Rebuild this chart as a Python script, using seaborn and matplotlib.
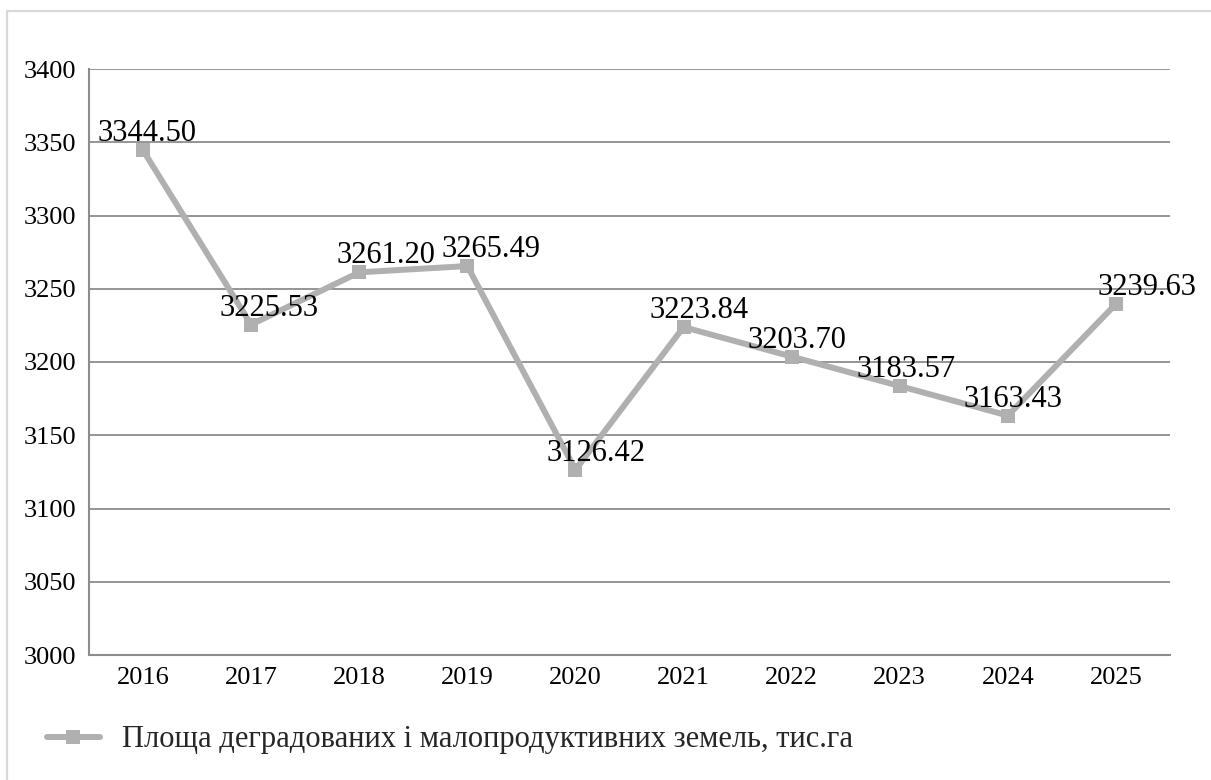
import matplotlib
matplotlib.use("Agg")
import matplotlib.pyplot as plt
from matplotlib.patches import Rectangle
import seaborn as sns
import pandas as pd

# Data
years = [2016, 2017, 2018, 2019, 2020, 2021, 2022, 2023, 2024, 2025]
area = [3344.50, 3225.53, 3261.20, 3265.49, 3126.42, 3223.84, 3203.70, 3183.57, 3163.43, 3239.63]
series_name = "Площа деградованих і малопродуктивних земель, тис.га"
y_ticks = [3000, 3050, 3100, 3150, 3200, 3250, 3300, 3350, 3400]

# Horizontal nudges of the value labels (pixels)
label_dx = [4, 18, 27, 24, 21, 16, 5, 6, 5, 31]

sns.set_theme(style="white")
plt.rcParams["font.family"] = ["Liberation Serif", "DejaVu Serif"]

W, H = 1211, 780
fig = plt.figure(figsize=(W / 100, H / 100), dpi=100)
ax = fig.add_axes([89 / W, (H - 655) / H, (1170 - 89) / W, (655 - 69) / H])

line_color = "#B0B0B0"
grid_color = "#8C8C8C"

df = pd.DataFrame({"year": years, "value": area})
sns.lineplot(data=df, x="year", y="value", ax=ax, color=line_color,
             linewidth=4.3, marker="s", markersize=10, markeredgewidth=0,
             label=series_name, legend=False)

ax.set_xlim(years[0] - 0.5, years[-1] + 0.5)
ax.set_ylim(y_ticks[0], y_ticks[-1])
ax.set_xticks(years)
ax.set_xticklabels([str(y) for y in years])
ax.set_yticks(y_ticks)
ax.set_xlabel("")
ax.set_ylabel("")
ax.tick_params(axis="both", labelsize=19, colors="black", length=0, pad=9)

ax.grid(axis="y", color=grid_color, linewidth=1.3)
ax.set_axisbelow(True)
for side in ["top", "right"]:
    ax.spines[side].set_visible(False)
for side in ["left", "bottom"]:
    ax.spines[side].set_color(grid_color)
    ax.spines[side].set_linewidth(1.5)

for x, v, dx in zip(years, area, label_dx):
    ax.annotate(f"{v:.2f}", xy=(x, v), xytext=(dx, 9), textcoords="offset pixels",
                ha="center", va="baseline", fontsize=22, color="black",
                annotation_clip=False, zorder=5)

handles, labels = ax.get_legend_handles_labels()
fig.legend(handles, labels, loc="center left",
           bbox_to_anchor=(47 / W, (H - 740) / H), frameon=False,
           fontsize=22, handlelength=1.73, handletextpad=0.72,
           borderpad=0, borderaxespad=0)

# Chart area border
fig.patches.append(Rectangle((7 / W, -0.1), 1.2, (H - 11) / H + 0.1,
                             transform=fig.transFigure, fill=False,
                             edgecolor="#D9D9D9", linewidth=1.6))

fig.savefig("out.png", dpi=100, facecolor="white")
